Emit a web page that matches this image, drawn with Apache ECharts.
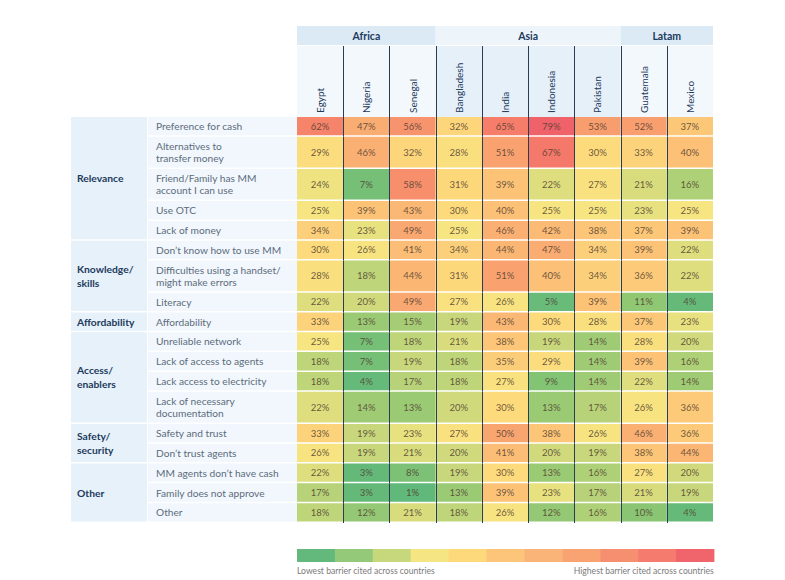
<!DOCTYPE html>
<html><head><meta charset="utf-8">
<script src="https://cdn.jsdelivr.net/npm/echarts@6/dist/echarts.min.js"></script>
<style>html,body{margin:0;padding:0;background:#fff}#c{width:785px;height:580px}</style>
</head><body><div id="c"></div>
<script>
const countries = ['Egypt','Nigeria','Senegal','Bangladesh','India','Indonesia','Pakistan','Guatemala','Mexico'];
const regions = ['Africa','Asia','Latam'];
const regionSpans = [3,4,2];
const groups = ['Relevance','Knowledge/\nskills','Affordability','Access/\nenablers','Safety/\nsecurity','Other'];
const groupSizes = [5,3,1,4,2,3];
const barriers = ['Preference for cash','Alternatives to\ntransfer money','Friend/Family has MM\naccount I can use','Use OTC','Lack of money',
  "Don\u2019t know how to use MM",'Difficulties using a handset/\nmight make errors','Literacy','Affordability','Unreliable network',
  'Lack of access to agents','Lack access to electricity','Lack of necessary\ndocumentation','Safety and trust',"Don\u2019t trust agents",
  "MM agents don\u2019t have cash",'Family does not approve','Other'];
const values = [
  [62,47,56,32,65,79,53,52,37],
  [29,46,32,28,51,67,30,33,40],
  [24,7,58,31,39,22,27,21,16],
  [25,39,43,30,40,25,25,23,25],
  [34,23,49,25,46,42,38,37,39],
  [30,26,41,34,44,47,34,39,22],
  [28,18,44,31,51,40,34,36,22],
  [22,20,49,27,26,5,39,11,4],
  [33,13,15,19,43,30,28,37,23],
  [25,7,18,21,38,19,14,28,20],
  [18,7,19,18,35,29,14,39,16],
  [18,4,17,18,27,9,14,22,14],
  [22,14,13,20,30,13,17,26,36],
  [33,19,23,27,50,38,26,46,36],
  [26,19,21,20,41,20,19,38,44],
  [22,3,8,19,30,13,16,27,20],
  [17,3,1,13,39,23,17,21,19],
  [18,12,21,18,26,12,16,10,4]
];
const legendLabels = ['Lowest barrier cited across countries','Highest barrier cited across countries'];

// styling
const scaleColors = ['#5eb77a','#68bb79','#8ac573','#a6cd75','#d0da7c','#f6e581','#fddb7c','#fccd79','#fcc076','#fbb374','#f9a570','#f8976d','#f6896b','#f57d6a','#f3736a','#f1686a','#f0606a'];
const legendColors = ['#63b97c','#95c97a','#c7d87c','#f6e683','#fdd97c','#fdc57a','#fbb478','#f9a372','#f68f70','#f47b6e','#f0646c'];
const FONT = 'Lato, "Open Sans", sans-serif';
const NAVY = '#1d3a5c';
const LINE = '#2b3d52';

// derived row layout (units) from label line counts
const rowUnits = barriers.map(b => b.indexOf('\n') >= 0 ? 1.62 : 1);
const rowStart = []; let acc = 0;
rowUnits.forEach(u => { rowStart.push(acc); acc += u; });
const totalUnits = acc;

const cellData = [];
values.forEach((row, r) => row.forEach((v, c) => cellData.push([c, v, rowStart[r], rowStart[r] + rowUnits[r], r])));
const rowData = barriers.map((b, r) => [0, r, rowStart[r], rowStart[r] + rowUnits[r]]);
const groupData = []; let gi = 0;
groupSizes.forEach((n, g) => { const s = rowStart[gi]; const e = rowStart[gi + n - 1] + rowUnits[gi + n - 1]; groupData.push([0, g, s, e]); gi += n; });
const regionOf = []; const regionData = []; let ci = 0;
regionSpans.forEach((n, i) => { regionData.push([ci, n, i]); for (let k = 0; k < n; k++) regionOf.push(i); ci += n; });
const headerData = countries.map((n, c) => [c, regionOf[c]]);

const GAP = 1.5;

function renderCell(params, api) {
  const c = api.value(0), v = api.value(1);
  const p0 = api.coord([c, api.value(2)]), p1 = api.coord([c, api.value(3)]);
  const w = api.size([c, 0])[0];
  const x = p0[0] - w / 2;
  const h = p1[1] - p0[1] - GAP;
  const ch = [
    { type: 'rect', shape: { x: x, y: p0[1], width: w, height: h }, style: { fill: api.visual('color') } },
    { type: 'text', x: p0[0], y: p0[1] + h / 2, style: { text: v + '%', align: 'center', verticalAlign: 'middle', fontSize: 9.5, fontFamily: FONT, fill: 'rgba(80,62,50,0.85)' } }
  ];
  if (c > 0) ch.push({ type: 'line', shape: { x1: Math.round(x) + 0.5, y1: p0[1], x2: Math.round(x) + 0.5, y2: p1[1] }, style: { stroke: LINE, lineWidth: 1 } });
  return { type: 'group', children: ch };
}
function renderHeader(params, api) {
  const c = api.value(0), reg = api.value(1);
  const p = api.coord([c, 0]);
  const w = api.size([c, 0])[0];
  const x = p[0] - w / 2;
  const top = p[1] - 71;
  const ch = [
    { type: 'rect', shape: { x: x, y: top, width: w, height: 71 }, style: { fill: reg === 1 ? '#e6f0f9' : '#f3f8fc' } },
    { type: 'text', x: p[0], y: p[1] - 4, rotation: Math.PI / 2, style: { text: countries[c], align: 'left', verticalAlign: 'middle', fontSize: 10, fontFamily: FONT, fill: NAVY } }
  ];
  if (c > 0) ch.push({ type: 'line', shape: { x1: Math.round(x) + 0.5, y1: top, x2: Math.round(x) + 0.5, y2: p[1] }, style: { stroke: LINE, lineWidth: 1 } });
  return { type: 'group', children: ch };
}
function renderRegion(params, api) {
  const s = api.value(0), n = api.value(1), i = api.value(2);
  const p = api.coord([s, 0]);
  const w = api.size([s, 0])[0];
  const x = p[0] - w / 2;
  const top = p[1] - 91;
  return { type: 'group', children: [
    { type: 'rect', shape: { x: x, y: top, width: w * n, height: 19 }, style: { fill: i === 1 ? '#edf5fb' : '#dceaf6' } },
    { type: 'text', x: x + w * n / 2, y: top + 10, style: { text: regions[i], align: 'center', verticalAlign: 'middle', fontSize: 10.5, fontWeight: 'bold', fontFamily: FONT, fill: NAVY } }
  ] };
}
function renderRowLabel(params, api) {
  const r = api.value(1);
  const p0 = api.coord([0, api.value(2)]), p1 = api.coord([0, api.value(3)]);
  const w = api.size([0, 0])[0];
  const right = p0[0] - w / 2;
  const left = right - 149;
  const h = p1[1] - p0[1] - GAP;
  return { type: 'group', children: [
    { type: 'rect', shape: { x: left, y: p0[1], width: 149, height: h }, style: { fill: '#f1f7fc' } },
    { type: 'text', x: left + 8, y: p0[1] + h / 2, style: { text: barriers[r], align: 'left', verticalAlign: 'middle', fontSize: 10.2, lineHeight: 12.5, fontFamily: FONT, fill: '#5d6c7c' } }
  ] };
}
function renderGroup(params, api) {
  const g = api.value(1);
  const p0 = api.coord([0, api.value(2)]), p1 = api.coord([0, api.value(3)]);
  const w = api.size([0, 0])[0];
  const right = p0[0] - w / 2 - 150;
  const left = 71;
  const h = p1[1] - p0[1] - GAP;
  return { type: 'group', children: [
    { type: 'rect', shape: { x: left, y: p0[1], width: right - left, height: h }, style: { fill: '#e6f1fa' } },
    { type: 'text', x: left + 6, y: p0[1] + h / 2, style: { text: groups[g], align: 'left', verticalAlign: 'middle', fontSize: 10.3, lineHeight: 14, fontWeight: 'bold', fontFamily: FONT, fill: NAVY } }
  ] };
}

const legendGraphic = { type: 'group', left: 297, top: 549, children: legendColors.map((col, i) => ({ type: 'rect', shape: { x: i * 37.9, y: 0, width: 38.4, height: 13 }, style: { fill: col } })) };

const chart = echarts.init(document.getElementById('c'), null, { renderer: 'svg' });
chart.setOption({
  backgroundColor: '#ffffff',
  animation: false,
  grid: { left: 297, right: 72, top: 117, bottom: 57 },
  xAxis: { type: 'category', data: countries, show: false },
  yAxis: { type: 'value', min: 0, max: totalUnits, inverse: true, show: false },
  visualMap: { type: 'continuous', show: false, seriesIndex: 0, dimension: 1, min: 0, max: 80, inRange: { color: scaleColors } },
  graphic: [
    legendGraphic,
    { type: 'text', left: 297, top: 566, style: { text: legendLabels[0], fontSize: 8.6, fontFamily: FONT, fill: '#7a7a7a' } },
    { type: 'text', right: 71, top: 566, style: { text: legendLabels[1], fontSize: 8.6, fontFamily: FONT, fill: '#7a7a7a' } }
  ],
  series: [
    { type: 'custom', renderItem: renderCell, data: cellData, encode: { x: 0, y: 2 }, silent: true },
    { type: 'custom', renderItem: renderHeader, data: headerData, encode: { x: 0 }, silent: true },
    { type: 'custom', renderItem: renderRegion, data: regionData, encode: { x: 0 }, silent: true },
    { type: 'custom', renderItem: renderRowLabel, data: rowData, encode: { x: 0, y: 2 }, silent: true },
    { type: 'custom', renderItem: renderGroup, data: groupData, encode: { x: 0, y: 2 }, silent: true }
  ]
});
</script></body></html>
